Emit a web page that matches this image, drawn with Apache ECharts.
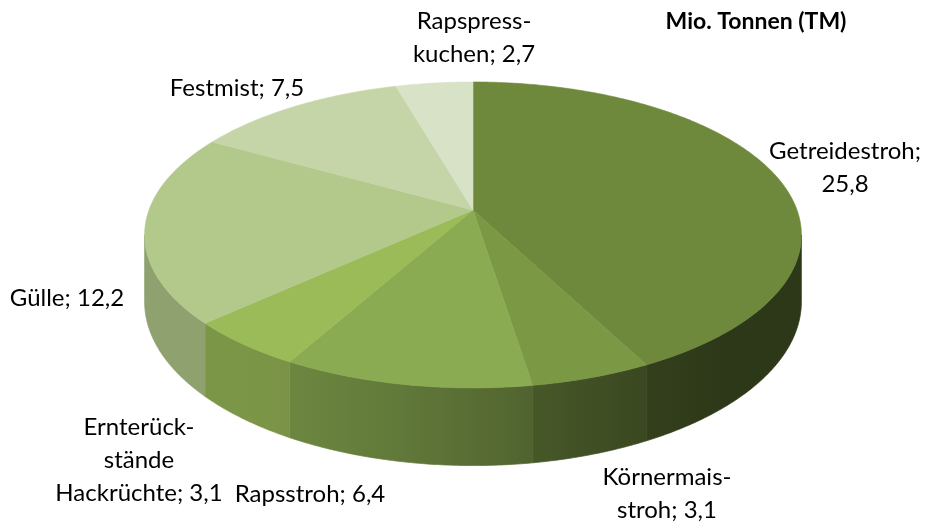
<!DOCTYPE html>
<html>
<head>
<meta charset="utf-8">
<script src="https://cdn.jsdelivr.net/npm/echarts@6/dist/echarts.min.js"></script>
<style>html,body{margin:0;padding:0;background:#fff}#chart{width:944px;height:526px}</style>
</head>
<body>
<div id="chart"></div>
<script>
// ---- data ----
const categories = ['Getreidestroh', 'Körnermais-\nstroh', 'Rapsstroh', 'Ernterück-\nstände\nHackrüchte', 'Gülle', 'Festmist', 'Rapspress-\nkuchen'];
const values = [25.8, 3.1, 6.4, 3.1, 12.2, 7.5, 2.7];
const unitLabel = 'Mio. Tonnen (TM)';

// ---- styling / layout ----
const topColors = ['#6e883c', '#7b9845', '#8aab51', '#9bbb59', '#b2c98b', '#c5d5a8', '#d7e2c7'];
const labelSep = [';\n', '; ', '; ', '; ', '; ', '; ', '; '];
const labelPos = [[845, 168], [667, 494], [310, 494], [139, 460], [67, 298], [237, 88], [474, 38]];
const FONT = 'Lato, "Noto Sans", sans-serif';
const G = { cx: 473, tipY: 210, R: 324, Rz: 148.9, p: 0.163, D: 65 };

const total = values.reduce((a, b) => a + b, 0);
const starts = [];
values.reduce((acc, v, i) => { starts[i] = acc; return acc + v; }, 0);

function proj(a, h) {
  const X = Math.sin(a), Z = Math.cos(a);
  const s = 1 / (1 + G.p * Z);
  return [G.cx + G.R * X * s, G.tipY - G.Rz * Z * s + h * s];
}
function smooth(t) { t = Math.max(0, Math.min(1, t)); return t * t * (3 - 2 * t); }
function shadeFactor(a) {
  const deg = a * 180 / Math.PI;
  return 0.41 + 0.39 * smooth((deg - 130) / 90);
}
function shade(hex, f) {
  const n = parseInt(hex.slice(1), 16);
  const r = Math.round(((n >> 16) & 255) * f), g = Math.round(((n >> 8) & 255) * f), b = Math.round((n & 255) * f);
  return 'rgb(' + r + ',' + g + ',' + b + ')';
}
const visMin = Math.acos(-G.p), visMax = 2 * Math.PI - Math.acos(-G.p);

function renderItem(params, api) {
  const i = params.dataIndex;
  const v = api.value(0);
  const a0 = starts[i] / total * 2 * Math.PI;
  const a1 = a0 + v / total * 2 * Math.PI;
  const children = [];
  // top face
  const pts = [[G.cx, G.tipY]];
  const n = Math.max(4, Math.ceil((a1 - a0) / 0.01));
  for (let k = 0; k <= n; k++) pts.push(proj(a0 + (a1 - a0) * k / n, 0));
  children.push({ type: 'polygon', z2: 10, shape: { points: pts },
    style: { fill: topColors[i], stroke: topColors[i], lineWidth: 0.6, lineJoin: 'round' } });
  // side wall (single polygon, horizontal gradient for lighting)
  const s0 = Math.max(a0, visMin), s1 = Math.min(a1, visMax);
  if (s1 > s0) {
    const m = Math.max(4, Math.ceil((s1 - s0) / 0.01));
    const topPts = [], botPts = [];
    for (let k = 0; k <= m; k++) {
      const b = s0 + (s1 - s0) * k / m;
      topPts.push(proj(b, 0));
      botPts.push(proj(b, G.D));
    }
    const wall = topPts.concat(botPts.reverse());
    const xL = proj(s1, 0)[0], xR = proj(s0, 0)[0];
    const stops = [];
    const ns = 12;
    for (let k = 0; k <= ns; k++) {
      const b = s1 - (s1 - s0) * k / ns;
      const off = Math.max(0, Math.min(1, (proj(b, 0)[0] - xL) / Math.max(1e-6, xR - xL)));
      stops.push({ offset: off, color: shade(topColors[i], shadeFactor(b)) });
    }
    const grad = { type: 'linear', x: xL, y: 0, x2: xR, y2: 0, global: true, colorStops: stops };
    children.push({ type: 'polygon', z2: 2, shape: { points: wall },
      style: { fill: grad, stroke: grad, lineWidth: 0.7 } });
  }
  // label
  const txt = categories[i] + labelSep[i] + String(v).replace('.', ',');
  children.push({ type: 'text', z2: 20, x: labelPos[i][0], y: labelPos[i][1],
    style: { text: txt, fill: '#000', fontSize: 24, fontFamily: FONT, align: 'center', verticalAlign: 'middle', lineHeight: 33 } });
  return { type: 'group', children };
}

const chart = echarts.init(document.getElementById('chart'), null, { renderer: 'canvas' });
chart.setOption({
  animation: false,
  backgroundColor: '#ffffff',
  graphic: [{ type: 'text', x: 756, y: 22, style: { text: unitLabel, fill: '#000', fontSize: 23, fontWeight: 'bold', fontFamily: FONT, align: 'center', verticalAlign: 'middle' } }],
  series: [{
    type: 'custom',
    coordinateSystem: 'none',
    renderItem: renderItem,
    data: values.map((v, i) => ({ value: [v], name: categories[i] }))
  }]
});
</script>
</body>
</html>
